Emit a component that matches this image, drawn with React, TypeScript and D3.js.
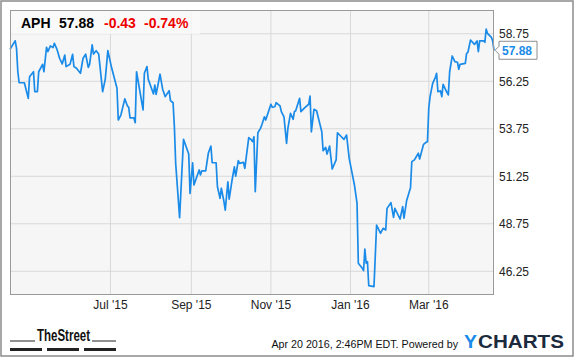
import React from "react";
import * as d3 from "d3";

const W = 575;
const H = 358;

const dates = [
  "2015-04-15","2015-04-19","2015-04-20","2015-04-21","2015-04-22","2015-04-26","2015-04-29","2015-04-30",
  "2015-05-03","2015-05-04","2015-05-06","2015-05-07","2015-05-10","2015-05-11","2015-05-13","2015-05-14",
  "2015-05-16","2015-05-18","2015-05-19","2015-05-21","2015-05-23","2015-05-25","2015-05-27","2015-05-28",
  "2015-05-31","2015-06-02","2015-06-03","2015-06-05","2015-06-08","2015-06-10","2015-06-12","2015-06-14",
  "2015-06-15","2015-06-17","2015-06-18","2015-06-20","2015-06-22","2015-06-25","2015-06-27","2015-06-29",
  "2015-07-02","2015-07-06","2015-07-07","2015-07-09","2015-07-12","2015-07-14","2015-07-15","2015-07-16",
  "2015-07-19","2015-07-20","2015-07-21","2015-07-26","2015-07-27","2015-07-29","2015-07-30","2015-08-01",
  "2015-08-03","2015-08-04","2015-08-05","2015-08-08","2015-08-10","2015-08-12","2015-08-15","2015-08-16",
  "2015-08-18","2015-08-19","2015-08-20","2015-08-23","2015-08-26","2015-08-30","2015-08-31","2015-09-02",
  "2015-09-03","2015-09-07","2015-09-08","2015-09-09","2015-09-12","2015-09-14","2015-09-16","2015-09-17",
  "2015-09-20","2015-09-21","2015-09-23","2015-09-24","2015-09-26","2015-09-27","2015-09-29","2015-09-30",
  "2015-10-02","2015-10-04","2015-10-05","2015-10-07","2015-10-08","2015-10-11","2015-10-12","2015-10-15",
  "2015-10-17","2015-10-18","2015-10-19","2015-10-20","2015-10-22","2015-10-24","2015-10-25","2015-10-27",
  "2015-10-28","2015-11-01","2015-11-02","2015-11-04","2015-11-05","2015-11-08","2015-11-09","2015-11-11",
  "2015-11-13","2015-11-14","2015-11-16","2015-11-18","2015-11-19","2015-11-20","2015-11-23","2015-11-24",
  "2015-11-27","2015-11-30","2015-12-01","2015-12-02","2015-12-04","2015-12-06","2015-12-10","2015-12-11",
  "2015-12-13","2015-12-14","2015-12-16","2015-12-18","2015-12-21","2015-12-22","2015-12-25","2015-12-27",
  "2015-12-29","2015-12-31","2016-01-02","2016-01-04","2016-01-06","2016-01-07","2016-01-10","2016-01-11",
  "2016-01-12","2016-01-13","2016-01-14","2016-01-15","2016-01-19","2016-01-21","2016-01-24","2016-01-26",
  "2016-01-28","2016-01-29","2016-02-01","2016-02-03","2016-02-04","2016-02-08","2016-02-10","2016-02-11",
  "2016-02-13","2016-02-16","2016-02-17","2016-02-19","2016-02-22","2016-02-23","2016-02-26","2016-02-28",
  "2016-02-29","2016-03-01","2016-03-02","2016-03-04","2016-03-06","2016-03-07","2016-03-08","2016-03-10",
  "2016-03-11","2016-03-12","2016-03-14","2016-03-16","2016-03-17","2016-03-19","2016-03-21","2016-03-23",
  "2016-03-24","2016-03-25","2016-03-29","2016-03-30","2016-03-31","2016-04-02","2016-04-05","2016-04-07",
  "2016-04-08","2016-04-09","2016-04-12","2016-04-13","2016-04-14","2016-04-15","2016-04-18","2016-04-19",
  "2016-04-20"
];

const prices = [
  57.93,58.38,57.98,56.75,56.17,56.17,55.35,56.49,
  56.75,55.70,55.70,56.75,57.14,56.75,58.04,57.81,
  58.11,58.02,58.25,57.93,57.46,57.16,57.63,57.02,
  57.14,57.67,57.02,56.93,56.67,57.46,57.67,56.98,
  57.14,58.16,57.68,57.86,57.68,55.70,56.35,57.86,
  56.93,55.88,54.21,54.47,55.32,54.95,54.88,54.32,
  54.32,54.07,56.75,54.74,56.67,57.02,56.35,55.96,
  55.58,56.05,55.56,56.62,55.83,55.44,55.75,55.23,
  55.12,53.86,51.93,49.07,53.19,52.42,50.35,51.96,
  50.79,51.58,51.32,51.54,51.53,52.46,52.84,51.96,
  51.96,50.70,50.09,50.62,49.91,49.47,50.96,50.04,
  50.96,51.75,51.26,52.07,51.93,51.98,51.67,53.28,
  53.16,53.07,53.33,50.44,53.54,53.77,53.95,54.38,
  54.21,55.04,54.88,54.91,55.12,54.95,54.65,54.38,
  52.98,53.77,54.56,54.25,54.65,54.70,55.35,54.65,
  54.86,55.04,55.47,53.59,54.77,54.70,53.59,52.59,
  52.77,52.42,52.84,51.63,52.11,53.54,53.33,53.19,
  53.42,52.19,51.49,50.79,49.83,46.67,46.41,46.28,
  47.42,46.67,46.75,45.49,45.44,48.68,48.25,48.51,
  48.42,49.56,49.86,49.09,49.56,49.00,49.65,49.04,
  49.96,50.65,52.02,52.11,52.46,52.16,52.93,53.04,
  53.07,54.83,55.44,56.14,56.44,56.67,55.70,55.74,
  55.44,56.09,55.79,55.53,56.75,57.58,57.28,57.25,
  56.88,57.14,57.19,57.72,57.77,58.42,58.19,58.37,
  57.81,58.37,58.38,58.30,59.00,58.77,58.56,58.37,
  57.88
];

const yTicks = [46.25, 48.75, 51.25, 53.75, 56.25, 58.75];
const xTicks = ["2015-07-01", "2015-09-01", "2015-11-01", "2016-01-01", "2016-03-01"];
const ticker = "APH";
const lastPrice = "57.88";
const change = "-0.43";
const changePct = "-0.74%";
const footerText = "Apr 20 2016, 2:46PM EDT. Powered by";

const parse = d3.timeParse("%Y-%m-%d");
const fmt = d3.timeFormat("%b '%y");

const PL = 10, PT = 10, PR = 494, PB = 295;
const BLUE = "#1a8be8";
const FONT = "Arial, 'Liberation Sans', Helvetica, sans-serif";

export default function App() {
  const data = dates.map((d, i) => ({ date: parse(d) as Date, value: prices[i] }));
  const x = d3.scaleTime()
    .domain([parse("2015-04-15") as Date, parse("2016-04-20") as Date])
    .range([PL, PR]);
  const y = d3.scaleLinear().domain([45, 60]).range([PB, PT]);
  const line = d3.line<{ date: Date; value: number }>()
    .x((d) => x(d.date))
    .y((d) => y(d.value));
  const last = data[data.length - 1];
  const ly = y(last.value);

  return (
    <svg width={W} height={H} style={{ position: "absolute", left: 0, top: 0, background: "#fff" }} fontFamily={FONT}>
      <rect x={1} y={1} width={572} height={355} fill="#fff" stroke="#8c8c8c" strokeWidth={1.5} />
      <rect x={PL} y={PT} width={PR - PL} height={PB - PT} fill="#f6f6f6" />
      {yTicks.map((t) => (
        <line key={"gy" + t} x1={PL} x2={PR} y1={y(t)} y2={y(t)} stroke="#d8d8d8" strokeWidth={1} />
      ))}
      {xTicks.map((t) => (
        <line key={"gx" + t} x1={x(parse(t) as Date)} x2={x(parse(t) as Date)} y1={PT} y2={PB} stroke="#d8d8d8" strokeWidth={1} />
      ))}
      <rect x={PL} y={PT} width={190} height={24} fill="#fafafa" opacity={0.8} />
      <path d={line(data) || ""} fill="none" stroke={BLUE} strokeWidth={1.7} strokeLinejoin="round" />
      <rect x={PL + 0.5} y={PT + 0.5} width={PR - PL - 1} height={PB - PT - 1} fill="none" stroke="#9a9a9a" strokeWidth={1} />

      {/* header */}
      <text x={21} y={28} fontSize={14} fontWeight="bold" fill="#000">{ticker}</text>
      <text x={59} y={28} fontSize={14} fontWeight="bold" fill="#000">{lastPrice}</text>
      <text x={104} y={28} fontSize={14} fontWeight="bold" fill="#ee0000">{change}</text>
      <text x={144} y={28} fontSize={14} fontWeight="bold" fill="#ee0000">{changePct}</text>

      {/* y axis labels */}
      {yTicks.map((t) => (
        <text key={"ty" + t} x={499} y={y(t) + 4.5} fontSize={12} fill="#222">{t.toFixed(2)}</text>
      ))}

      {/* last price tag */}
      <path d={`M${PR + 1},${ly} L${499},${ly - 4} L499,${ly - 9} L537,${ly - 9} L537,${ly + 9} L499,${ly + 9} L499,${ly + 4} Z`}
        fill="#fff" stroke="#8c8c8c" strokeWidth={1} />
      <text x={502} y={ly + 4.5} fontSize={12} fontWeight="bold" fill={BLUE}>{last.value.toFixed(2)}</text>

      {/* x axis labels */}
      {xTicks.map((t) => (
        <text key={"tx" + t} x={x(parse(t) as Date)} y={309} fontSize={12} textAnchor="middle" fill="#222">{fmt(parse(t) as Date)}</text>
      ))}

      {/* footer: TheStreet */}
      <line x1={10} x2={116} y1={341} y2={341} stroke="#222" strokeWidth={1} />
      <rect x={35} y={328} width={57} height={14} fill="#fff" />
      <text x={37} y={341} fontSize={16} fontWeight="bold" fill="#111" textLength={53} lengthAdjust="spacingAndGlyphs">TheStreet</text>
      <rect x={10} y={348} width={32} height={3} fill="#222" />
      <rect x={47} y={348} width={32} height={3} fill="#222" />
      <rect x={84} y={348} width={32} height={3} fill="#222" />

      {/* footer right */}
      <text x={458} y={348} fontSize={10.7} fill="#111" textAnchor="end">{footerText}</text>
      <text x={464} y={348} fontSize={18} fontWeight="bold" fill="#1a8be8" textLength={13} lengthAdjust="spacingAndGlyphs">Y</text>
      <text x={478} y={348} fontSize={18} fontWeight="bold" fill="#1b2a3c" textLength={86} lengthAdjust="spacingAndGlyphs">CHARTS</text>
    </svg>
  );
}
